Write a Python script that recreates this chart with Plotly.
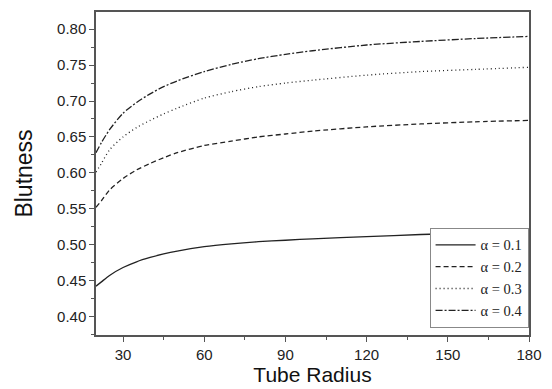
import plotly.graph_objects as go

radius = [20, 22, 25, 30, 35, 40, 45, 50, 60, 70, 80, 90, 100, 120, 140, 160, 180]
blut_01 = [0.442, 0.448, 0.457, 0.468, 0.476, 0.482, 0.487, 0.491, 0.497, 0.501, 0.504, 0.506, 0.508, 0.511, 0.514, 0.516, 0.517]
blut_02 = [0.552, 0.561, 0.576, 0.592, 0.604, 0.613, 0.621, 0.628, 0.638, 0.644, 0.650, 0.654, 0.658, 0.664, 0.668, 0.671, 0.673]
blut_03 = [0.601, 0.613, 0.632, 0.650, 0.663, 0.673, 0.682, 0.690, 0.704, 0.713, 0.720, 0.725, 0.729, 0.736, 0.741, 0.744, 0.747]
blut_04 = [0.628, 0.642, 0.660, 0.683, 0.698, 0.710, 0.720, 0.728, 0.741, 0.751, 0.759, 0.765, 0.770, 0.778, 0.783, 0.787, 0.790]

series = [
    ("\u03b1 = 0.1", blut_01, "solid"),
    ("\u03b1 = 0.2", blut_02, "5px,3px"),
    ("\u03b1 = 0.3", blut_03, "1px,3px"),
    ("\u03b1 = 0.4", blut_04, "7px,2px,2px,2px"),
]

fig = go.Figure()
for name, ys, dash in series:
    fig.add_trace(go.Scatter(
        x=radius, y=ys, mode="lines", name=name,
        line=dict(color="#222222", width=1.3, dash=dash, shape="spline", smoothing=0.7),
    ))

axis_common = dict(
    showline=True, linecolor="#555555", linewidth=1.5, mirror=True,
    ticks="outside", ticklen=5, tickwidth=1, tickcolor="#555555",
    showgrid=False, zeroline=False,
    tickfont=dict(family="Liberation Sans, Arial, sans-serif", size=15, color="#222222"),
)

fig.update_xaxes(
    range=[20, 180], tick0=0, dtick=30,
    title=dict(text="Tube Radius", font=dict(family="Liberation Sans, Arial, sans-serif", size=21, color="#111111"), standoff=2),
    minor=dict(ticks="outside", dtick=15, tick0=0, ticklen=3, tickcolor="#555555"),
    **axis_common,
)
fig.update_yaxes(
    range=[0.374, 0.824], tick0=0, dtick=0.05, tickformat=".2f",
    title=dict(text="Blutness", font=dict(family="Liberation Sans, Arial, sans-serif", size=23, color="#111111"), standoff=18),
    minor=dict(ticks="outside", dtick=0.025, tick0=0, ticklen=3, tickcolor="#555555"),
    **axis_common,
)

fig.update_layout(
    width=552, height=389,
    margin=dict(l=96, r=16, t=10, b=53),
    paper_bgcolor="white", plot_bgcolor="white",
    showlegend=True,
    legend=dict(
        x=0.999, y=0.022, xanchor="right", yanchor="bottom",
        bordercolor="#888888", borderwidth=1, bgcolor="white",
        font=dict(family="Liberation Serif, Times New Roman, serif", size=14.5, color="#222222"),
        tracegroupgap=0, itemwidth=40,
    ),
)

fig.write_html("out.html")
